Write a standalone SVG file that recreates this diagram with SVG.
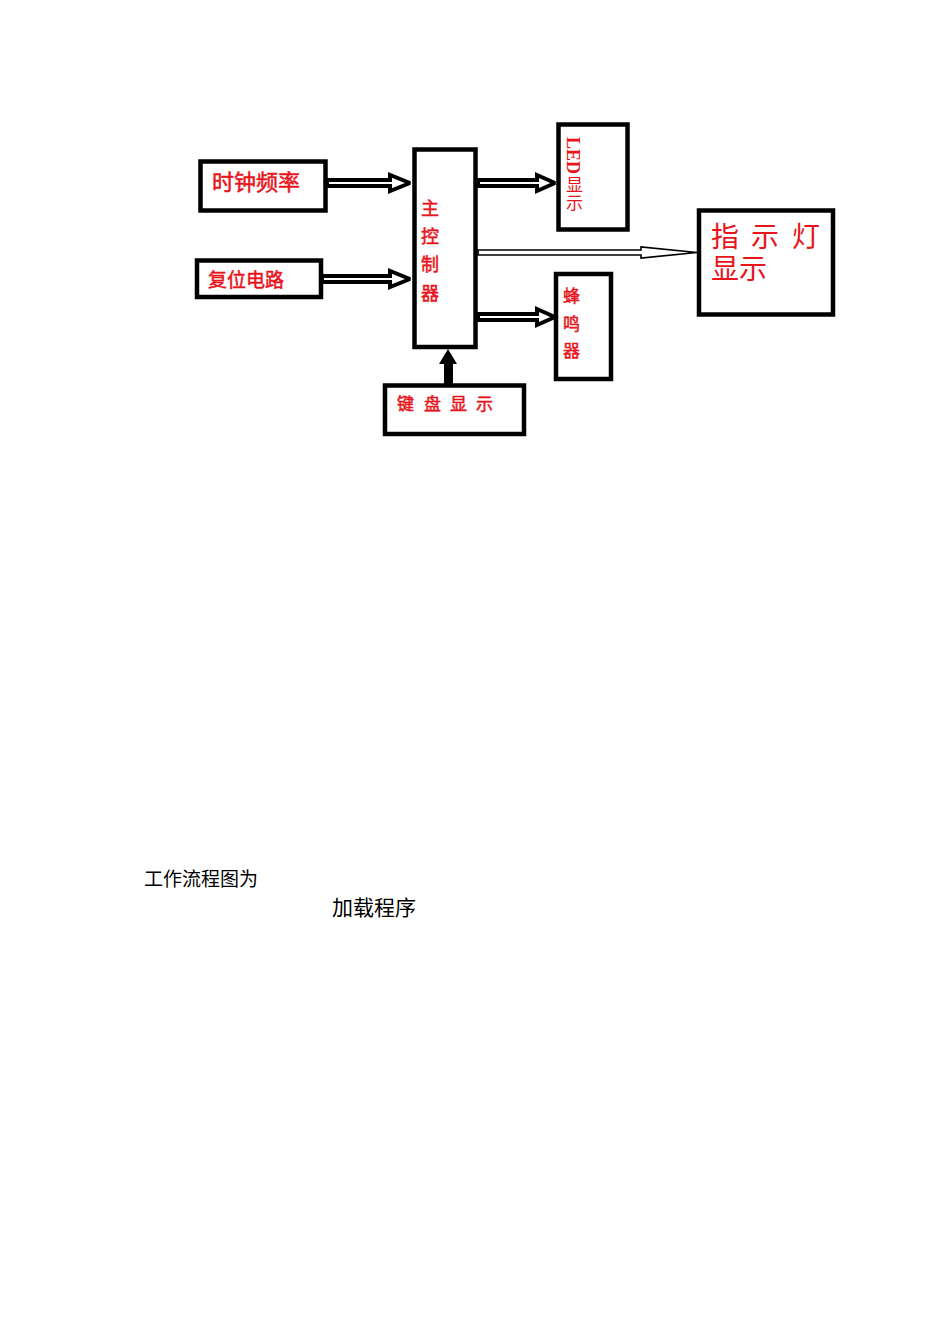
<svg xmlns="http://www.w3.org/2000/svg" width="950" height="1344" viewBox="0 0 950 1344">
<style>
.box{fill:#fff;stroke:#000;stroke-width:4.5}
.lbl{font-family:"Noto Sans CJK SC","Noto Sans",sans-serif;fill:#e8141b;stroke:#e8141b;stroke-width:0.5}
.thin{font-family:"Noto Sans CJK SC","Noto Sans",sans-serif;fill:#e8141b}
.blk{font-family:"Noto Sans CJK SC","Noto Sans",sans-serif;fill:#000}
.dbl{fill:#fff;stroke:#000;stroke-width:4;stroke-linejoin:miter;stroke-miterlimit:2}
.dblthin{fill:#fff;stroke:#000;stroke-width:1.6;stroke-linejoin:miter;stroke-miterlimit:2}
</style>
<rect width="950" height="1344" fill="#fff"/>
<g id="connectors">
<polygon class="dbl" points="327,180 390,180 390,175 410,183 390,191 390,186 327,186"/>
<polygon class="dbl" points="322,276 390,276 390,271 410,279 390,287 390,282 322,282"/>
<polygon class="dbl" points="478,180 537,180 537,175 555,183 537,191 537,186 478,186"/>
<polygon class="dbl" points="478,314 537,314 537,309 555,317 537,325 537,320 478,320"/>
<polygon class="dblthin" points="478,250 641,250 641,247 697,252.5 641,258 641,255 478,255"/>
<rect x="444" y="362" width="9" height="22" fill="#000"/>
<polygon points="439,364 457,364 448,349" fill="#000"/>
</g>
<g id="clock">
<rect class="box" x="200.5" y="161.5" width="125" height="49"/>
<text class="lbl" x="212" y="190" font-size="22">时钟频率</text>
</g>
<g id="reset">
<rect class="box" x="197" y="260.5" width="124" height="36.5"/>
<text class="lbl" x="208" y="287" font-size="19">复位电路</text>
</g>
<g id="main">
<rect class="box" x="414.5" y="149.5" width="61" height="197.5"/>
<text class="lbl" font-size="18"><tspan x="421" y="215">主</tspan><tspan x="421" y="243">控</tspan><tspan x="421" y="271">制</tspan><tspan x="421" y="300">器</tspan></text>
</g>
<g id="led">
<rect class="box" x="558.5" y="124.5" width="69" height="105"/>
<text transform="translate(567,137) rotate(90)" font-family="'Liberation Serif',serif" font-weight="bold" font-size="18" fill="#e8141b">LED</text>
<text class="thin" font-size="17"><tspan x="566" y="191">显</tspan><tspan x="566" y="209">示</tspan></text>
</g>
<g id="indicator">
<rect class="box" x="699" y="210.5" width="134" height="104"/>
<text class="thin" font-size="28"><tspan x="711" y="247">指</tspan><tspan x="751" y="247">示</tspan><tspan x="792" y="247">灯</tspan><tspan x="711" y="279">显示</tspan></text>
</g>
<g id="buzzer">
<rect class="box" x="556" y="274" width="55" height="105"/>
<text class="lbl" font-size="17"><tspan x="563" y="302">蜂</tspan><tspan x="563" y="330">鸣</tspan><tspan x="563" y="357">器</tspan></text>
</g>
<g id="keyboard">
<rect class="box" x="385" y="385.5" width="139" height="48.5"/>
<text class="lbl" font-size="17" y="410"><tspan x="397">键</tspan><tspan x="424">盘</tspan><tspan x="450">显</tspan><tspan x="476">示</tspan></text>
</g>
<text class="blk" x="144" y="886" font-size="19">工作流程图为</text>
<text class="blk" x="332" y="915" font-size="21">加载程序</text>
</svg>
